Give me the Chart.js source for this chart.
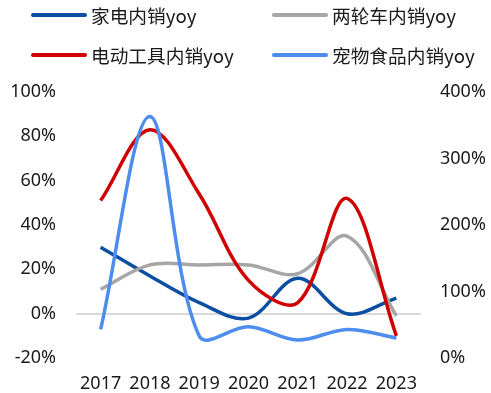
<!DOCTYPE html>
<html>
<head>
<meta charset="utf-8">
<script src="https://cdn.jsdelivr.net/npm/chart.js@4"></script>
<style>
  html, body { margin: 0; padding: 0; background: #fff; }
  #wrap { width: 491px; height: 393px; }
</style>
</head>
<body>
<div id="wrap"><canvas id="chart" width="491" height="393"></canvas></div>
<script>
const years = ['2017', '2018', '2019', '2020', '2021', '2022', '2023'];
const seriesNames = ['家电内销yoy', '两轮车内销yoy', '电动工具内销yoy', '宠物食品内销yoy'];
// left axis (%)
const appliance = [30, 17, 5, -2, 16, 0, 7];
const twoWheeler = [11, 22, 22, 22, 18, 35, -1];
const powerTools = [51, 83, 54, 15, 5, 52, -10];
// right axis (%)
const petFood = [43, 363, 33, 47, 27, 43, 30];
const leftTicks = [-20, 0, 20, 40, 60, 80, 100];
const rightTicks = [0, 100, 200, 300, 400];

const colors = ['#0b4ea2', '#a6a6a6', '#d00000', '#4d8ded'];
const tickFont = { family: 'Noto Sans', size: 18 };

// legend in two fixed columns
const legendPlugin = {
    id: 'twoColLegend',
    afterDraw(chart) {
        const ctx = chart.ctx;
        const cols = [33, 274];
        const rows = [15, 55];
        ctx.save();
        ctx.font = '18.7px "Noto Sans CJK SC"';
        ctx.textBaseline = 'middle';
        ctx.fillStyle = '#1a1a1a';
        seriesNames.forEach((name, i) => {
            const x = cols[i % 2];
            const y = rows[Math.floor(i / 2)];
            ctx.strokeStyle = colors[i];
            ctx.lineWidth = 4;
            ctx.lineCap = 'round';
            ctx.beginPath();
            ctx.moveTo(x, y);
            ctx.lineTo(x + 52, y);
            ctx.stroke();
            ctx.fillText(name, x + 58, y + 1);
        });
        ctx.restore();
    }
};

function line(label, data, color, axis, order) {
    return {
        label: label,
        data: data,
        borderColor: color,
        backgroundColor: color,
        borderWidth: 3.5,
        pointRadius: 0,
        tension: 0.35,
        yAxisID: axis,
        order: order
    };
}

const chart = new Chart(document.getElementById('chart'), {
    type: 'line',
    data: {
        labels: years,
        datasets: [
            line(seriesNames[0], appliance, colors[0], 'y', 3),
            line(seriesNames[1], twoWheeler, colors[1], 'y', 2),
            line(seriesNames[2], powerTools, colors[2], 'y', 1),
            line(seriesNames[3], petFood, colors[3], 'y1', 0)
        ]
    },
    options: {
        responsive: false,
        animation: false,
        layout: { padding: { top: 92, left: 0, right: 0, bottom: 0 } },
        plugins: {
            legend: { display: false },
            tooltip: { enabled: false }
        },
        scales: {
            x: {
                offset: true,
                grid: { display: false },
                border: { display: false },
                ticks: { color: '#1a1a1a', font: tickFont, padding: 7, maxRotation: 0 },
                afterFit: s => { s.height = 35; }
            },
            y: {
                position: 'left',
                min: -20,
                max: 100,
                afterBuildTicks: s => { s.ticks = leftTicks.map(v => ({ value: v })); },
                grid: {
                    drawTicks: false,
                    lineWidth: 2,
                    color: c => c.tick && c.tick.value === 0 ? '#d9d9d9' : 'rgba(0,0,0,0)'
                },
                border: { display: false },
                ticks: { color: '#1a1a1a', font: tickFont, padding: 20, callback: v => v + '%' },
                afterFit: s => { s.width = 76; }
            },
            y1: {
                position: 'right',
                min: 0,
                max: 400,
                afterBuildTicks: s => { s.ticks = rightTicks.map(v => ({ value: v })); },
                grid: { display: false, drawTicks: false },
                border: { display: false },
                ticks: { color: '#1a1a1a', font: tickFont, padding: 19, callback: v => v + '%' },
                afterFit: s => { s.width = 70; }
            }
        }
    },
    plugins: [legendPlugin]
});
</script>
</body>
</html>
